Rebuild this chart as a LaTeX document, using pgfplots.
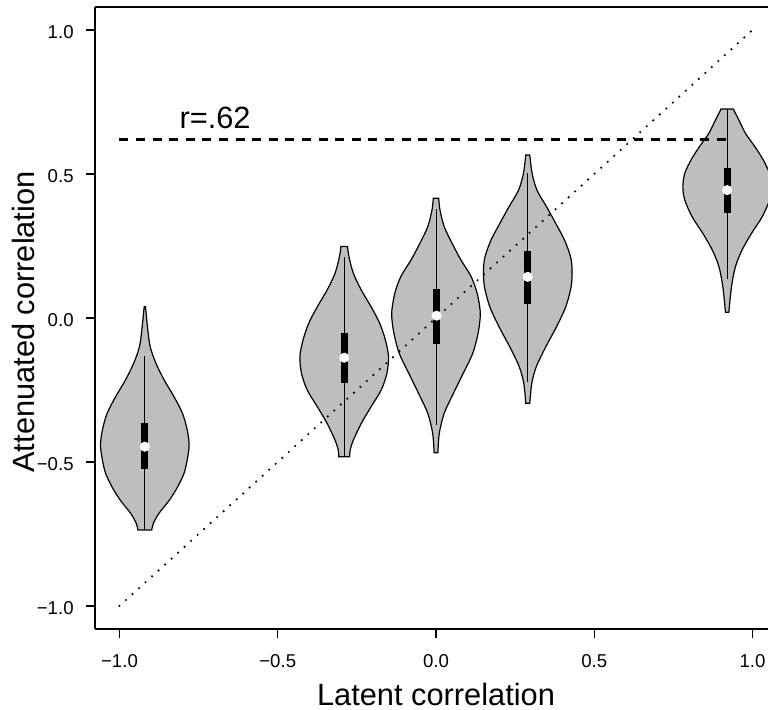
\documentclass[border=0pt]{standalone}
\usepackage{fontspec}
\setmainfont{Liberation Sans}
\usepackage{pgfplots}
\usepackage{pgfplotstable}
\pgfplotsset{compat=1.18}
\usepgfplotslibrary{fillbetween}
\definecolor{vgray}{RGB}{190,190,190}

% violin outlines: y, half-width
\pgfplotstableread{
y w
-0.736 0.022
-0.713 0.027
-0.678 0.045
-0.632 0.078
-0.586 0.104
-0.539 0.124
-0.493 0.134
-0.441 0.140
-0.389 0.134
-0.331 0.119
-0.273 0.092
-0.215 0.061
-0.157 0.035
-0.100 0.017
-0.042 0.0095
0.039 0.002
}\vA
\pgfplotstableread{
y w
-0.482 0.017
-0.458 0.019
-0.424 0.029
-0.366 0.054
-0.308 0.085
-0.250 0.117
-0.192 0.135
-0.134 0.140
-0.076 0.130
-0.018 0.112
0.039 0.085
0.097 0.054
0.155 0.029
0.213 0.015
0.248 0.0105
}\vB
\pgfplotstableread{
y w
-0.468 0.006
-0.400 0.0105
-0.331 0.026
-0.262 0.055
-0.192 0.086
-0.123 0.116
-0.053 0.133
0.016 0.140
0.086 0.130
0.144 0.111
0.201 0.079
0.259 0.051
0.317 0.026
0.375 0.0126
0.416 0.0085
}\vC
\pgfplotstableread{
y w
-0.296 0.0063
-0.227 0.0126
-0.169 0.027
-0.100 0.057
-0.030 0.091
0.039 0.120
0.109 0.137
0.167 0.140
0.213 0.135
0.271 0.116
0.329 0.088
0.387 0.059
0.444 0.029
0.502 0.0137
0.566 0.0063
}\vD
\pgfplotstableread{
y w
0.020 0.0054
0.109 0.0137
0.178 0.026
0.236 0.047
0.294 0.077
0.352 0.111
0.410 0.134
0.456 0.140
0.502 0.134
0.549 0.114
0.595 0.0875
0.641 0.058
0.6875 0.037
0.726 0.019
}\vE

\pgfplotsset{
  violin/.style={fill=vgray, draw=black, line width=0.6pt},
  whisk/.style={black, line width=0.6pt},
  boxq/.style={black, line width=3.5pt},
  med/.style={only marks, mark=*, mark size=2.3pt, mark options={fill=white, draw=white}},
}

\begin{document}
\begin{tikzpicture}
\begin{axis}[
  scale only axis, width=336.5pt, height=311pt,
  xmin=-1.0774, xmax=1.049, ymin=-1.08, ymax=1.08,
  axis x line*=box, axis y line*=left,
  axis line style={line width=0.7pt},
  xtick={-1,-0.5,0,0.5,1}, xticklabels={−1.0,−0.5,0.0,0.5,1.0},
  ytick={-1,-0.5,0,0.5,1}, yticklabels={−1.0,−0.5,0.0,0.5,1.0},
  xtick pos=left, ytick pos=left,
  tick align=outside, major tick length=4.5pt,
  tick style={black, line width=0.7pt},
  ticklabel style={font=\fontsize{9.3}{11}\selectfont},
  xticklabel style={anchor=north, inner sep=0pt, yshift=-8pt},
  yticklabel style={anchor=east, inner sep=0pt, xshift=-6pt, yshift=-1.2pt},
  xlabel={Latent correlation}, ylabel={Attenuated correlation},
  label style={font=\fontsize{15.4}{18}\selectfont},
  xlabel style={at={(axis description cs:0.5067,0)}, anchor=base, yshift=-38.5pt},
  ylabel style={at={([xshift=-30pt]axis description cs:0,0.4936)}, anchor=base},
]
% violin 1
\addplot[draw=none, smooth, name path=R1] table[x expr=-0.92+\thisrow{w}, y=y] {\vA};
\addplot[draw=none, smooth, name path=L1] table[x expr=-0.92-\thisrow{w}, y=y] {\vA};
\addplot[violin] fill between[of=R1 and L1, reverse=true];
\addplot[whisk] coordinates {(-0.92,-0.736) (-0.92,-0.132)};
\addplot[boxq] coordinates {(-0.92,-0.524) (-0.92,-0.364)};
\addplot[med] coordinates {(-0.92,-0.447)};
% violin 2
\addplot[draw=none, smooth, name path=R2] table[x expr=-0.29+\thisrow{w}, y=y] {\vB};
\addplot[draw=none, smooth, name path=L2] table[x expr=-0.29-\thisrow{w}, y=y] {\vB};
\addplot[violin] fill between[of=R2 and L2, reverse=true];
\addplot[whisk] coordinates {(-0.29,-0.482) (-0.29,0.213)};
\addplot[boxq] coordinates {(-0.29,-0.227) (-0.29,-0.051)};
\addplot[med] coordinates {(-0.29,-0.138)};
% violin 3
\addplot[draw=none, smooth, name path=R3] table[x expr=0+\thisrow{w}, y=y] {\vC};
\addplot[draw=none, smooth, name path=L3] table[x expr=0-\thisrow{w}, y=y] {\vC};
\addplot[violin] fill between[of=R3 and L3, reverse=true];
\addplot[whisk] coordinates {(0.002,-0.372) (0.002,0.377)};
\addplot[boxq] coordinates {(0.002,-0.090) (0.002,0.0995)};
\addplot[med] coordinates {(0.002,0.008)};
% violin 4
\addplot[draw=none, smooth, name path=R4] table[x expr=0.29+\thisrow{w}, y=y] {\vD};
\addplot[draw=none, smooth, name path=L4] table[x expr=0.29-\thisrow{w}, y=y] {\vD};
\addplot[violin] fill between[of=R4 and L4, reverse=true];
\addplot[whisk] coordinates {(0.29,-0.221) (0.29,0.502)};
\addplot[boxq] coordinates {(0.29,0.049) (0.29,0.233)};
\addplot[med] coordinates {(0.29,0.143)};
% violin 5
\addplot[draw=none, smooth, name path=R5] table[x expr=0.92+\thisrow{w}, y=y] {\vE};
\addplot[draw=none, smooth, name path=L5] table[x expr=0.92-\thisrow{w}, y=y] {\vE};
\addplot[violin] fill between[of=R5 and L5, reverse=true];
\addplot[whisk] coordinates {(0.92,0.135) (0.92,0.726)};
\addplot[boxq] coordinates {(0.92,0.366) (0.92,0.522)};
\addplot[med] coordinates {(0.92,0.444)};
% reference lines
\addplot[black, line width=1.2pt, line cap=round, dash pattern=on 0pt off 4.4pt] coordinates {(-1,-1) (1,1)};
\addplot[black, line width=1.1pt, dash pattern=on 4.5pt off 3.8pt] coordinates {(-1,0.62) (0.92,0.62)};
\node[font=\fontsize{15.4}{18}\selectfont] at (axis cs:-0.698,0.696) {r=.62};
\end{axis}
\pgfresetboundingbox
\path[use as bounding box] (-47.5pt,-40.5pt) rectangle (336.5pt,314.5pt);
\end{tikzpicture}
\end{document}
